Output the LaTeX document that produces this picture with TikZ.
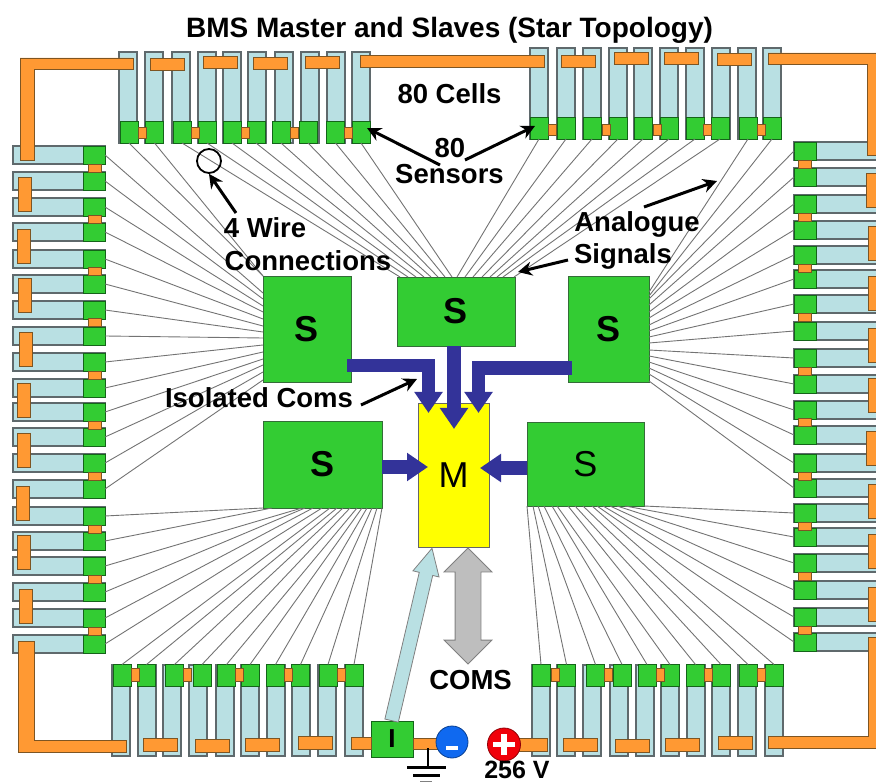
\documentclass[tikz,border=0pt]{standalone}
\usepackage{xcolor}
\usepackage{fontspec}
\setmainfont{Liberation Sans}
\usetikzlibrary{arrows.meta,calc,shapes.arrows}
\definecolor{cell_blue}{RGB}{185,224,227}
\definecolor{cell_edge}{RGB}{95,105,108}
\definecolor{sensor_green}{RGB}{51,204,51}
\definecolor{sensor_edge}{RGB}{20,100,25}
\definecolor{bus_orange}{RGB}{255,153,51}
\definecolor{bus_edge}{RGB}{125,85,35}
\definecolor{coms_navy}{RGB}{51,51,153}
\definecolor{coms_grey}{RGB}{190,190,190}
\definecolor{master_yellow}{RGB}{255,255,0}
\definecolor{minus_blue}{RGB}{15,105,240}
\definecolor{plus_red}{RGB}{240,0,10}
\tikzset{
    cellbody/.style={draw=cell_edge, fill=cell_blue, line width=1.2pt},
    busbar/.style={draw=bus_edge, fill=bus_orange, line width=0.9pt},
    sensorv/.style={draw=sensor_edge, fill=sensor_green, line width=0.9pt, minimum width=18pt, minimum height=22pt, inner sep=0pt, outer sep=0pt},
    sensorh/.style={draw=sensor_edge, fill=sensor_green, line width=0.9pt, minimum width=22pt, minimum height=18pt, inner sep=0pt, outer sep=0pt},
    slave/.style={draw=sensor_edge!70!gray, fill=sensor_green, line width=0.8pt, inner sep=0pt, outer sep=0pt, font=\bfseries\fontsize{36}{36}\selectfont},
    wire/.style={draw=black!55, line width=0.9pt},
    comsarrow/.style={draw=coms_navy, line width=13.5pt, -{Triangle[length=21pt, width=27pt]}},
    pointer/.style={draw=black, line width=3pt, -{Stealth[length=14pt, width=14pt]}},
    callout/.style={inner sep=0pt, anchor=base, font=\bfseries\fontsize{27.5}{27.5}\selectfont}
}

\begin{document}
\begin{tikzpicture}[x=1pt, y=-1pt]
    \useasboundingbox (0,0) rectangle (876,783);

    % Title
    \node[inner sep=0pt, anchor=base, font=\bfseries\fontsize{28}{28}\selectfont] (title) at (449.5,38) {BMS Master and Slaves (Star Topology)};

    % Cells top left
    \foreach \n/\x/\xs in {1/119/129,2/145/154.5,3/172/182,4/198/207,5/223/232,6/248/256,7/275/281,8/301/308,9/327/335.5,10/352/361} {
        \filldraw[cellbody] (\x,52) rectangle +(18,91);
        \node[sensorv] (stl\n) at (\xs,132) {};
    }
    \foreach \x in {138,191,241,290,344} {
        \filldraw[busbar] (\x,127) rectangle +(8,11);
    }
    \foreach \x/\y in {150/58,203/56,253/57,305/56} {
        \filldraw[busbar] (\x,\y) rectangle +(34,12);
    }

    % Cells top right
    \foreach \n/\x/\xs in {1/530/539,2/557/566,3/583/592,4/609/618,5/634/643,6/660/669,7/686/695,8/712/720,9/738/748,10/763/772} {
        \filldraw[cellbody] (\x,48) rectangle +(18,91);
        \node[sensorv] (str\n) at (\xs,128) {};
    }
    \foreach \x in {548,602,653,703,757} {
        \filldraw[busbar] (\x,124) rectangle +(8,11);
    }
    \foreach \x/\y in {561/55,614/52,664/52,717/53} {
        \filldraw[busbar] (\x,\y) rectangle +(34,12);
    }

    % Cells bottom left
    \foreach \n/\x/\xs in {1/112/122,2/138/146.5,3/163/174.5,4/189/202,5/216/226.5,6/241/250,7/267/275.5,8/292/300.5,9/318/328,10/345/354} {
        \filldraw[cellbody] (\x,665) rectangle +(18,91);
        \node[sensorv] (sbl\n) at (\xs,675.5) {};
    }
    \foreach \x in {131,183,235,284,337} {
        \filldraw[busbar] (\x,668) rectangle +(8,13);
    }
    \foreach \x/\y in {143/738,195/739,245/738,298/736} {
        \filldraw[busbar] (\x,\y) rectangle +(34,13);
    }

    % Cells bottom right
    \foreach \n/\x/\xs in {1/532/541,2/557/566.5,3/583/595.5,4/610/622,5/636/647,6/661/670,7/687/695.5,8/712/721,9/738/748,10/765/774} {
        \filldraw[cellbody] (\x,665) rectangle +(18,91);
        \node[sensorv] (sbr\n) at (\xs,675.5) {};
    }
    \foreach \x in {551,604,656,704,757} {
        \filldraw[busbar] (\x,668) rectangle +(8,13);
    }
    \foreach \x/\y in {563/738,615/739,665/738,718/736} {
        \filldraw[busbar] (\x,\y) rectangle +(34,13);
    }

    % Cells left
    \foreach \n/\y in {1/146,2/172,3/198,4/223,5/250,6/275,7/301,8/327,9/353,10/379,11/403,12/428,13/454,14/480,15/507,16/532,17/557,18/583,19/609,20/635} {
        \filldraw[cellbody] (13,\y) rectangle +(92,18);
        \node[sensorh] (sl\n) at (94,\y+9) {};
    }
    \foreach \y in {164,215,267,318,371,421,472,525,575,627} {
        \filldraw[busbar] (88,\y) rectangle +(13,8);
    }
    \foreach \x/\y in {18/177,17/229,18/278,19/332,17/383,17/433,16/486,17/535,19/589} {
        \filldraw[busbar] (\x,\y) rectangle +(13,34);
    }

    % Cells right
    \foreach \n/\y in {1/142,2/168,3/195,4/221,5/246,6/270,7/295,8/322,9/349,10/375,11/401,12/426,13/454,14/479,15/504,16/528,17/554,18/581,19/608,20/633} {
        \filldraw[cellbody] (794,\y) rectangle (880,\y+18);
        \node[sensorh] (sr\n) at (805,\y+9) {};
    }
    \foreach \y in {160,213,264,313,367,418,472,522,572,626} {
        \filldraw[busbar] (798,\y) rectangle +(13,8);
    }
    \foreach \x/\y in {866/173,868/226,868/276,868/328,868/378,866/431,868/484,868/534,868/587} {
        \filldraw[busbar] (\x,\y) rectangle (880,\y+34);
    }

    % Main bus bars
    \filldraw[busbar] (20,58) -- (133,58) -- (133,69) -- (34,69) -- (34,160) -- (20,160) -- cycle;
    \filldraw[busbar] (360,55) rectangle (544,67);
    \filldraw[busbar] (768,53) -- (880,53) -- (880,155) -- (867,155) -- (867,64) -- (768,64) -- cycle;
    \filldraw[busbar] (18,641) -- (34,641) -- (34,740) -- (126,740) -- (126,752) -- (18,752) -- cycle;
    \filldraw[busbar] (880,637) -- (868,637) -- (868,736) -- (768,736) -- (768,748) -- (880,748) -- cycle;

    % Slaves and master
    \node[slave, minimum width=88pt, minimum height=106pt] (slaveA) at (307,329) {S};
    \node[slave, minimum width=118pt, minimum height=69pt] (slaveB) at (456,311.5) {S};
    \node[slave, minimum width=81pt, minimum height=106pt] (slaveC) at (608.5,329) {S};
    \node[slave, minimum width=119pt, minimum height=87pt] (slaveD) at (322.5,464.5) {S};
    \node[slave, minimum width=117pt, minimum height=84pt, font=\fontsize{36}{36}\selectfont] (slaveE) at (585.5,464) {S};
    \node[draw=black!60, fill=master_yellow, line width=0.8pt, minimum width=71pt, minimum height=144pt, inner sep=0pt, outer sep=0pt, font=\fontsize{36}{36}\selectfont] (master) at (453.5,475) {M};

    % Analogue signal wires
    \foreach \n in {1,2} {
        \draw[wire] (stl\n.south) -- (slaveA.north west);
    }
    \foreach \n/\x in {3/400,4/408,5/416,6/424,7/431,8/438,9/445,10/452} {
        \draw[wire] (stl\n.south) -- (slaveB.north west -| \x,0);
    }
    \foreach \n/\x in {1/457,2/465,3/473,4/482,5/490,6/497,7/503,8/514} {
        \draw[wire] (str\n.south) -- (slaveB.north west -| \x,0);
    }
    \foreach \n/\y in {9/292,10/296} {
        \draw[wire] (str\n.south) -- (slaveC.north east |- 0,\y);
    }
    \foreach \n/\y in {1/293,2/299,3/306,4/312,5/319,6/326,7/332,8/338,9/345,10/352,11/359,12/365,13/372,14/380} {
        \draw[wire] (sl\n.east) -- (slaveA.north west |- 0,\y);
    }
    \foreach \n/\y in {1/299,2/305,3/312,4/318,5/325,6/331,7/337,8/343,9/350,10/356,11/362,12/368,13/374,14/381} {
        \draw[wire] (sr\n.west) -- (slaveC.north east |- 0,\y);
    }
    \foreach \n/\x in {15/263,16/272,17/302,18/305,19/313,20/322} {
        \draw[wire] (sl\n.east) -- (slaveD.south west -| \x,0);
    }
    \foreach \n/\x in {1/330,2/337,3/343,4/350,5/357,6/362,7/367,8/372,9/377,10/382} {
        \draw[wire] (sbl\n.north) -- (slaveD.south west -| \x,0);
    }
    \foreach \n/\x in {1/527,2/533,3/538,4/544,5/552,6/557,7/568,8/575,9/583,10/592} {
        \draw[wire] (sbr\n.north) -- (slaveE.south west -| \x,0);
    }
    \foreach \n/\x in {20/597,19/603,18/610,17/617,16/625,15/644} {
        \draw[wire] (sr\n.west) -- (slaveE.south west -| \x,0);
    }

    % Isolated coms
    \coordinate (comA) at (347,365.5);
    \coordinate (comC) at (572,368);
    \coordinate (tipA) at (428.5,413);
    \coordinate (tipB) at (454,429);
    \coordinate (tipC) at (478.5,413);
    \coordinate (tipD) at (428,467);
    \coordinate (tipE) at (480,468);
    \draw[comsarrow] (comA) -| (tipA);
    \draw[comsarrow] (comC) -| (tipC);
    \draw[comsarrow] (slaveB.south -| tipB) -- (tipB);
    \draw[comsarrow] (slaveD.east |- tipD) -- (tipD);
    \draw[comsarrow] (slaveE.west |- tipE) -- (tipE);

    % Isolator and supply
    \node[draw=sensor_edge, fill=sensor_green, line width=0.9pt, minimum width=42pt, minimum height=36pt, inner sep=0pt, outer sep=0pt, font=\bfseries\fontsize{26}{26}\selectfont] (isolator) at (392,739) {I};
    \filldraw[busbar] (351,737) rectangle (isolator.west |- 0,749);
    \filldraw[busbar] (isolator.east |- 0,738) rectangle (440,749);
    \filldraw[busbar] (515,738) rectangle (547,751);
    \node[single arrow, draw=black!50, fill=cell_blue, line width=0.8pt, anchor=tail, minimum height=177pt, minimum width=26pt, single arrow head extend=6.5pt, single arrow head indent=0pt, single arrow tip angle=54, inner xsep=0pt, inner ysep=6.5pt, rotate=76.8] (sense) at (391.5,721) {};
    \node[double arrow, draw=black!50, fill=coms_grey, line width=0.8pt, minimum height=116pt, minimum width=47pt, double arrow head extend=11pt, double arrow head indent=0pt, inner xsep=0pt, inner ysep=12.5pt, rotate=90] (comslink) at (468,606) {};
    \node[circle, draw=minus_blue!60!black, fill=minus_blue, line width=0.8pt, minimum size=32pt, inner sep=0pt] (minus) at (452,742) {};
    \node[circle, draw=plus_red!60!black, fill=plus_red, line width=0.8pt, minimum size=33pt, inner sep=0pt] (plus) at (504,744.5) {};
    \fill[white] (445.5,746) rectangle (458,750);
    \fill[white] (493,741.5) rectangle (515,747);
    \fill[white] (501,733.5) rectangle (507,755);

    % Ground
    \coordinate (earth) at (428,766);
    \draw[line width=2.5pt] (428,748) -- (earth);
    \draw[line width=3pt] (407,767) -- (446,767);
    \draw[line width=3pt] (413,775) -- (440,775);
    \draw[line width=1.5pt, black!50] (420,781.5) -- (432,781.5);

    % Pointers
    \node[circle, draw=black, line width=1.8pt, minimum size=24pt, inner sep=0pt] (probe) at (209,161) {};
    \coordinate (sensorsl) at (440,165);
    \coordinate (sensorsr) at (465,160);
    \coordinate (wires) at (236,213);
    \coordinate (analoga) at (644,207);
    \coordinate (analogatip) at (717,181);
    \coordinate (analogb) at (568,260);
    \coordinate (analogbtip) at (518,272);
    \coordinate (isola) at (361,405);
    \coordinate (isolb) at (417,379);
    \draw[pointer] (sensorsl) -- (367,128);
    \draw[pointer] (sensorsr) -- (535,126);
    \draw[pointer] (wires) -- (probe.south);
    \draw[pointer] (analoga) -- (analogatip);
    \draw[pointer] (analogb) -- (analogbtip);
    \draw[pointer] (isola) -- (isolb);

    % Labels
    \node[callout] (cells) at (449.5,104) {80 Cells};
    \node[callout] (eighty) at (450,158) {80};
    \node[callout] (sensors) at (449.5,184) {Sensors};
    \node[callout] (wirea) at (265,238) {4 Wire};
    \node[callout] (wireb) at (308,271) {Connections};
    \node[callout] (analogue) at (637,232) {Analogue};
    \node[callout] (signals) at (623,264) {Signals};
    \node[callout] (isolated) at (259,408) {Isolated Coms};
    \node[callout] (comslabel) at (470.5,689) {COMS};
    \node[callout, font=\bfseries\fontsize{25}{25}\selectfont] (volts) at (517,778) {256 V};
\end{tikzpicture}
\end{document}
